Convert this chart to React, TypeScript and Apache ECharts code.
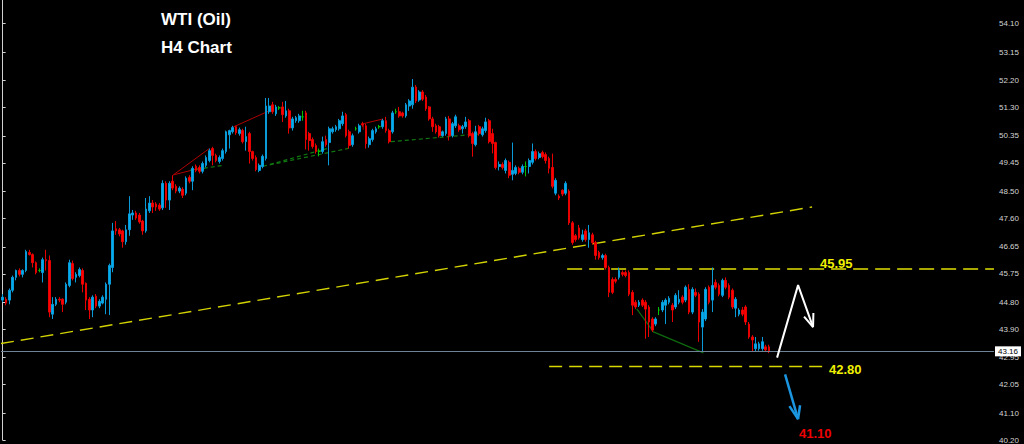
import React, { useEffect, useRef } from "react";
import * as echarts from "echarts";

// number of bar slots across the plot (candles + empty space on the right)
const SLOTS = 298;

// H4 candles: [open, close, low, high]
const ohlc: number[][] = [
  [44.87, 44.97, 44.8, 45.07], [44.9, 44.77, 44.7, 44.97], [44.87, 45.2, 44.73, 45.26], [45.2, 45.63, 45.13, 45.69],
  [45.63, 45.86, 45.53, 45.89], [45.86, 45.73, 45.66, 45.93], [45.73, 45.86, 45.63, 45.9], [45.86, 46.49, 45.8, 46.55],
  [46.46, 46.39, 46.36, 46.55], [46.39, 46.12, 45.96, 46.43], [46.12, 45.79, 45.73, 46.16], [45.86, 45.86, 45.8, 45.93],
  [45.79, 46.22, 45.46, 46.29], [46.22, 46.19, 45.86, 46.55], [46.19, 44.47, 44.3, 46.36], [44.4, 44.73, 44.24, 44.97],
  [44.73, 44.9, 44.67, 44.97], [44.9, 44.87, 44.8, 44.97], [44.9, 44.73, 44.47, 44.93], [44.8, 45.4, 44.73, 45.46],
  [45.36, 46.12, 45.3, 46.22], [46.09, 45.59, 45.53, 46.19], [45.63, 45.73, 45.46, 45.8], [45.69, 45.89, 45.63, 45.96],
  [45.86, 45.4, 45.13, 45.93], [45.43, 44.87, 44.54, 45.46], [44.9, 44.54, 44.24, 44.97], [44.54, 44.97, 44.3, 45.03],
  [45.0, 44.67, 44.6, 45.07], [44.67, 44.83, 44.6, 44.9], [44.77, 44.97, 44.73, 45.03], [44.9, 45.4, 44.4, 45.46],
  [45.4, 46.03, 44.37, 46.09], [45.96, 47.18, 45.8, 47.45], [47.25, 47.18, 47.05, 47.51], [47.22, 47.08, 47.0, 47.28],
  [47.18, 46.82, 46.62, 47.22], [46.82, 47.22, 46.72, 47.38], [47.22, 47.75, 47.02, 48.34], [47.71, 47.78, 47.55, 47.88],
  [47.78, 47.61, 47.55, 47.85], [47.71, 47.48, 47.42, 47.78], [47.51, 47.18, 47.05, 47.55], [47.18, 47.91, 47.12, 48.28],
  [47.85, 48.11, 47.78, 48.34], [48.11, 47.98, 47.78, 48.21], [48.08, 47.98, 47.85, 48.14], [48.04, 47.91, 47.85, 48.11],
  [47.95, 48.77, 47.88, 48.87], [48.77, 48.21, 47.95, 48.84], [48.21, 48.77, 47.88, 48.84], [48.84, 48.61, 48.54, 49.04],
  [48.67, 48.51, 48.44, 48.74], [48.51, 48.61, 48.44, 48.67], [48.57, 48.37, 48.28, 48.64], [48.44, 48.94, 48.37, 49.0],
  [48.97, 48.84, 48.77, 49.04], [48.84, 49.27, 48.54, 49.34], [49.34, 49.2, 49.14, 49.4], [49.3, 49.17, 49.1, 49.37],
  [49.17, 49.43, 49.1, 49.5], [49.37, 49.63, 49.3, 49.7], [49.53, 49.86, 49.47, 49.93], [49.93, 49.7, 49.37, 49.99],
  [49.7, 49.53, 49.47, 49.76], [49.5, 49.63, 49.43, 49.7], [49.6, 49.86, 49.53, 49.93], [49.83, 50.49, 49.76, 50.53],
  [50.39, 50.53, 49.93, 50.56], [50.49, 50.63, 50.43, 50.69], [50.66, 50.46, 50.39, 50.69], [50.43, 50.56, 50.36, 50.63],
  [50.53, 50.16, 50.1, 50.59], [50.16, 50.33, 49.86, 50.66], [50.43, 49.83, 49.43, 50.49], [49.83, 49.6, 49.53, 49.86],
  [49.63, 49.23, 49.17, 49.7], [49.2, 49.37, 49.14, 49.43], [49.33, 49.67, 49.27, 49.73], [49.6, 51.35, 49.53, 51.62],
  [51.16, 51.35, 51.09, 51.62], [51.39, 51.16, 51.09, 51.49], [51.09, 51.32, 51.02, 51.39], [51.29, 51.29, 51.22, 51.35],
  [51.32, 51.06, 50.82, 51.49], [51.02, 51.19, 50.96, 51.52], [51.19, 50.62, 50.43, 51.26], [50.62, 50.92, 50.53, 50.99],
  [50.86, 50.96, 50.79, 51.02], [50.86, 51.02, 50.79, 51.09], [50.99, 50.99, 50.86, 51.19], [51.12, 50.23, 49.9, 51.19],
  [50.43, 50.2, 49.86, 50.49], [50.23, 50.0, 49.93, 50.3], [50.03, 49.83, 49.76, 50.1], [49.83, 49.83, 49.67, 49.93],
  [49.83, 50.16, 49.76, 50.33], [50.23, 50.06, 49.99, 50.36], [50.13, 50.59, 49.37, 50.66], [50.49, 50.59, 50.43, 50.66],
  [50.56, 50.66, 50.49, 50.72], [50.59, 50.86, 50.53, 50.92], [50.76, 51.02, 50.69, 51.16], [51.06, 50.36, 50.3, 51.12],
  [50.49, 50.03, 49.93, 50.56], [50.06, 50.36, 49.99, 50.43], [50.59, 50.59, 50.53, 50.66], [50.49, 50.69, 50.43, 50.76],
  [50.76, 50.72, 50.66, 50.82], [50.69, 50.1, 49.93, 50.76], [50.06, 50.26, 49.96, 50.33], [50.23, 50.53, 50.16, 50.59],
  [50.49, 50.59, 50.43, 50.66], [50.66, 50.66, 50.59, 50.72], [50.66, 50.86, 50.59, 50.92], [50.86, 50.53, 50.46, 50.99],
  [50.53, 50.16, 50.1, 50.59], [50.49, 51.12, 50.43, 51.19], [51.16, 51.16, 51.09, 51.26], [51.16, 51.02, 50.96, 51.32],
  [51.12, 51.02, 50.96, 51.16], [51.02, 51.39, 50.96, 51.45], [51.35, 51.52, 51.19, 51.58], [51.39, 51.98, 51.26, 52.25],
  [51.98, 51.52, 51.45, 52.05], [51.55, 51.82, 51.49, 51.88], [51.82, 51.58, 51.52, 51.88], [51.65, 51.26, 51.19, 51.72],
  [51.32, 50.92, 50.86, 51.35], [50.92, 50.66, 50.49, 50.99], [50.69, 50.49, 50.43, 50.76], [50.66, 50.36, 50.3, 50.72],
  [50.36, 50.49, 50.33, 50.53], [50.43, 50.92, 50.36, 50.99], [50.92, 50.36, 50.2, 51.02], [50.36, 50.76, 50.3, 50.82],
  [50.69, 50.99, 50.62, 51.06], [50.69, 50.56, 50.49, 50.76], [50.59, 50.66, 50.43, 50.72], [50.66, 50.82, 50.59, 50.99],
  [50.86, 50.36, 50.3, 50.92], [50.43, 50.1, 49.66, 50.49], [50.06, 50.49, 50.0, 50.69], [50.66, 50.43, 50.36, 50.72],
  [50.39, 50.59, 50.33, 50.66], [50.53, 50.82, 50.46, 50.96], [50.86, 50.16, 50.1, 50.92], [50.43, 50.1, 49.77, 50.59],
  [50.13, 49.3, 49.23, 50.16], [49.33, 49.4, 49.2, 49.5], [49.4, 49.3, 49.23, 49.47], [49.2, 49.53, 49.1, 49.6],
  [49.47, 49.04, 48.94, 49.53], [49.07, 49.2, 48.87, 50.13], [49.1, 49.3, 49.04, 49.37], [49.27, 49.14, 49.07, 49.33],
  [49.14, 49.33, 49.07, 49.4], [49.33, 49.33, 49.0, 49.5], [49.33, 49.53, 49.1, 49.6], [49.47, 49.83, 49.4, 50.1],
  [49.83, 49.6, 49.53, 49.9], [49.63, 49.76, 49.57, 49.83], [49.8, 49.66, 49.6, 49.86], [49.73, 49.53, 49.43, 49.8],
  [49.6, 49.27, 49.1, 49.66], [49.3, 48.67, 48.6, 49.76], [48.44, 48.87, 48.37, 48.94], [48.34, 48.28, 48.21, 48.4],
  [48.54, 48.41, 48.34, 48.57], [48.44, 48.77, 48.37, 48.84], [48.51, 47.45, 47.38, 48.57], [47.45, 46.79, 46.72, 47.51],
  [47.02, 46.89, 46.82, 47.08], [47.28, 46.95, 46.89, 47.38], [46.89, 47.05, 46.82, 47.22], [47.18, 46.89, 46.82, 47.25],
  [46.89, 47.12, 46.62, 47.38], [47.05, 46.79, 46.72, 47.12], [46.79, 46.36, 46.22, 46.85], [46.46, 46.29, 46.22, 46.52],
  [46.29, 46.36, 46.22, 46.42], [46.36, 45.96, 45.89, 46.42], [45.96, 45.13, 44.97, 46.02], [45.56, 45.13, 45.07, 45.63],
  [45.56, 45.5, 45.43, 45.63], [45.63, 45.86, 45.56, 45.96], [45.79, 45.73, 45.66, 45.86], [45.79, 45.69, 45.63, 45.86],
  [45.79, 45.07, 45.0, 45.86], [45.13, 44.7, 44.37, 45.2], [44.8, 44.64, 44.57, 44.87], [44.7, 44.8, 44.64, 44.87],
  [44.87, 44.7, 44.64, 44.93], [44.8, 44.57, 43.58, 44.87], [44.64, 44.14, 43.64, 44.7], [44.24, 43.87, 43.81, 44.3],
  [44.07, 44.24, 44.0, 44.3], [44.54, 44.54, 44.37, 44.64], [44.54, 44.8, 44.47, 44.87], [44.7, 44.87, 44.07, 44.93],
  [44.8, 44.93, 44.73, 45.0], [44.7, 44.54, 44.14, 44.77], [44.64, 45.03, 44.57, 45.1], [44.8, 44.9, 44.73, 45.2],
  [44.97, 44.8, 44.73, 45.03], [44.87, 45.3, 44.8, 45.36], [45.23, 44.47, 44.4, 45.4], [44.47, 45.23, 44.4, 45.3],
  [45.13, 45.03, 44.97, 45.26], [45.07, 44.14, 43.48, 45.13], [43.97, 44.47, 43.16, 44.57], [44.24, 45.23, 44.17, 45.3],
  [45.3, 44.8, 44.73, 45.36], [44.87, 45.36, 44.47, 45.96], [45.46, 45.3, 45.23, 45.56], [45.36, 45.07, 45.0, 45.43],
  [45.03, 45.53, 44.97, 45.59], [45.53, 45.3, 45.23, 45.63], [45.36, 44.97, 44.9, 45.43], [45.2, 44.64, 44.57, 45.26],
  [44.6, 44.9, 44.3, 44.97], [44.4, 44.54, 44.33, 44.6], [44.54, 44.4, 44.33, 44.64], [44.64, 44.14, 44.04, 44.7],
  [44.07, 43.64, 43.58, 44.14], [43.64, 43.54, 43.15, 43.7], [43.25, 43.41, 43.15, 43.64], [43.25, 43.41, 43.18, 43.48],
  [43.25, 43.48, 43.18, 43.64], [43.31, 43.21, 43.15, 43.38], [43.31, 43.16, 43.1, 43.38],
];

// price scale
const yTicks = [40.2, 41.1, 42.05, 42.95, 43.9, 44.8, 45.75, 46.65, 47.6, 48.5, 49.45, 50.35, 51.3, 52.2, 53.15, 54.1];
const yMin = 40.2;
const yMax = 54.89;
const lastPrice = 43.16;

// drawn objects, in [bar index, price]
const trendLine = [[-0.5, 43.42], [242.9, 47.98]];
const resistance = [[169.4, 45.91], [297.5, 45.91]];
const support = [[164.0, 42.65], [246.8, 42.65]];
const redLines = [
  [[51.2, 49.05], [62.0, 49.93]],
  [[51.2, 49.05], [60.1, 49.3]],
  [[69.2, 50.65], [80.2, 51.2]],
  [[108.2, 50.56], [108.2, 50.76], [114.2, 50.92]],
];
const greenDashed = [
  [[56.2, 49.2], [66.1, 49.37]],
  [[78.1, 49.34], [104.8, 49.96]],
  [[80.2, 49.4], [97.3, 49.93]],
  [[116.5, 50.16], [144.2, 50.43]],
];
const greenSolid = [[190.3, 44.58], [195.3, 43.81], [210.3, 43.11]];
const whitePath = [[232.4, 42.95], [238.7, 45.37], [243.2, 43.97]];
const whiteHead = [[240.5, 44.32], [243.2, 43.97], [243.3, 44.44]];
const bluePath = [[234.8, 42.39], [238.7, 40.9]];
const blueHead = [[236.1, 41.33], [238.7, 40.9], [239.3, 41.36]];

const title1 = "WTI (Oil)";
const title2 = "H4 Chart";
const resistanceLabel = "45.95";
const supportLabel = "42.80";
const targetLabel = "41.10";

const FONT = "'Liberation Sans', Arial, sans-serif";

function lineSeries(data: number[][], color: string, width: number, type: any, z = 3) {
  return {
    type: "line",
    xAxisIndex: 1,
    yAxisIndex: 0,
    data,
    symbol: "none",
    showSymbol: false,
    silent: true,
    z,
    lineStyle: { color, width, type },
  };
}

export default function App() {
  const ref = useRef<HTMLDivElement>(null);

  useEffect(() => {
    if (!ref.current) return;
    const chart = echarts.init(ref.current, undefined, { renderer: "svg" });
    const categories = Array.from({ length: SLOTS }, (_, i) => String(i));

    const option: any = {
      animation: false,
      backgroundColor: "#000000",
      grid: { left: 1, right: 30, top: 0, bottom: 0, containLabel: false },
      xAxis: [
        { type: "category", data: categories, boundaryGap: true, show: false },
        { type: "value", min: -0.5, max: SLOTS - 0.5, show: false },
      ],
      yAxis: {
        type: "value",
        position: "right",
        min: yMin,
        max: yMax,
        axisLine: { show: true, lineStyle: { color: "#D0D0D0", width: 1 } },
        axisTick: { show: true, length: 3, customValues: yTicks, lineStyle: { color: "#D0D0D0" } },
        axisLabel: {
          customValues: yTicks,
          formatter: (v: number) => v.toFixed(2),
          color: "#D4D4D4",
          fontSize: 8,
          fontFamily: FONT,
          margin: 5,
        },
        splitLine: { show: false },
      },
      series: [
        lineSeries(trendLine, "#D2D200", 1.4, [13, 7], 2),
        lineSeries(resistance, "#E0E000", 1.5, [15, 7], 2),
        lineSeries(support, "#D8D800", 1.5, [13, 7], 2),
        ...redLines.map((d) => lineSeries(d, "#B00000", 1, "solid", 3)),
        ...greenDashed.map((d) => lineSeries(d, "#117811", 1.2, [4, 3], 3)),
        lineSeries(greenSolid, "#0E6A0E", 1.2, "solid", 3),
        {
          type: "candlestick",
          xAxisIndex: 0,
          yAxisIndex: 0,
          data: ohlc,
          barWidth: 2.2,
          z: 4,
          itemStyle: {
            color: "#00AEEF",
            color0: "#FF0000",
            borderColor: "#0A9AD8",
            borderColor0: "#E80000",
            borderColorDoji: "#00C000",
            borderWidth: 1,
          },
          markLine: {
            silent: true,
            symbol: ["none", "none"],
            animation: false,
            data: [{ yAxis: lastPrice }],
            lineStyle: { color: "#6F8396", type: "solid", width: 1 },
            label: {
              show: true,
              position: "end",
              formatter: lastPrice.toFixed(2),
              color: "#000000",
              backgroundColor: "#FFFFFF",
              fontSize: 8,
              fontFamily: FONT,
              padding: [1, 3, 1, 3],
              distance: 1,
            },
          },
        },
        lineSeries(whitePath, "#FFFFFF", 2, "solid", 5),
        lineSeries(whiteHead, "#FFFFFF", 2, "solid", 5),
        lineSeries(bluePath, "#1B95E0", 2.5, "solid", 5),
        lineSeries(blueHead, "#1B95E0", 2.5, "solid", 5),
      ],
      graphic: [
        { type: "text", x: 161, y: 19, style: { text: title1, fill: "#FFFFFF", font: `bold 17px ${FONT}`, verticalAlign: "middle" } },
        { type: "text", x: 161, y: 47, style: { text: title2, fill: "#FFFFFF", font: `bold 17px ${FONT}`, verticalAlign: "middle" } },
        { type: "text", x: 820, y: 263, style: { text: resistanceLabel, fill: "#F0F000", font: `bold 13px ${FONT}`, verticalAlign: "middle" } },
        { type: "text", x: 829, y: 369, style: { text: supportLabel, fill: "#F0F000", font: `bold 13px ${FONT}`, verticalAlign: "middle" } },
        { type: "text", x: 799, y: 433, style: { text: targetLabel, fill: "#F00000", font: `bold 13px ${FONT}`, verticalAlign: "middle" } },
      ],
    };

    chart.setOption(option);
    return () => chart.dispose();
  }, []);

  return (
    <div
      ref={ref}
      style={{ position: "fixed", left: 0, top: 0, width: 1024, height: 444, background: "#000" }}
    />
  );
}
